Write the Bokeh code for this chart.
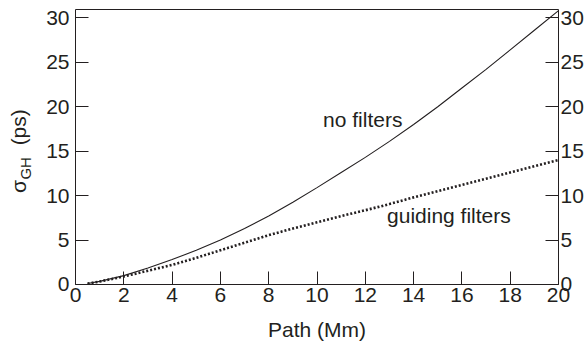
import math
from bokeh.plotting import figure
from bokeh.models import LinearAxis, FixedTicker, Range1d, Label
from bokeh.embed import file_html
from bokeh.resources import INLINE

# ---- data ----
path_mm = [0.5, 1, 2, 3, 4, 5, 6, 7, 8, 9, 10, 11, 12, 13, 14, 15, 16, 17, 18, 19, 20]
no_filters = [0.12, 0.35, 1.0, 1.85, 2.8, 3.85, 5.0, 6.3, 7.7, 9.25, 10.9, 12.6,
              14.3, 16.1, 18.0, 20.0, 22.1, 24.2, 26.4, 28.6, 30.8]
guiding_filters = [0.1, 0.33, 0.9, 1.55, 2.2, 3.0, 3.85, 4.7, 5.55, 6.3, 7.0, 7.7,
                   8.35, 9.05, 9.8, 10.5, 11.2, 11.9, 12.6, 13.3, 14.0]
x_ticks = [0, 2, 4, 6, 8, 10, 12, 14, 16, 18, 20]
y_ticks = [0, 5, 10, 15, 20, 25, 30]

FONT = "Liberation Sans"
INK = "#231f20"

X_MIN, X_MAX = 0, 20
Y_MIN, Y_MAX = 0, 30.9

# The frame covers the whole canvas so that every text (axis titles, tick
# labels) is drawn inside it; the four box sides are axes at fixed locations.
p = figure(width=587, height=345, output_backend="svg", toolbar_location=None,
           x_range=Range1d(-3.106, 21.2), y_range=Range1d(-6.862, 31.946),
           min_border_left=0, min_border_right=0, min_border_top=0,
           min_border_bottom=0)
p.grid.visible = False
p.background_fill_color = "white"
p.border_fill_color = "white"
p.outline_line_color = None


def style_axis(ax, standoff):
    ax.axis_line_color = INK
    ax.axis_line_width = 1
    ax.major_tick_line_color = INK
    ax.major_tick_line_width = 1
    ax.major_tick_in = 13
    ax.major_tick_out = 0
    ax.minor_tick_in = 0
    ax.minor_tick_out = 0
    ax.minor_tick_line_color = None
    ax.major_label_text_font = FONT
    ax.major_label_text_font_size = "21px"
    ax.major_label_text_color = INK
    ax.major_label_standoff = standoff


xax = p.xaxis[0]
xax.ticker = FixedTicker(ticks=x_ticks)
xax.bounds = (X_MIN, X_MAX)
xax.fixed_location = Y_MIN
style_axis(xax, 4)

yax = p.yaxis[0]
yax.ticker = FixedTicker(ticks=y_ticks)
yax.bounds = (Y_MIN, Y_MAX)
yax.fixed_location = X_MIN
style_axis(yax, 6)

rax = LinearAxis(ticker=FixedTicker(ticks=y_ticks), bounds=(Y_MIN, Y_MAX),
                 fixed_location=X_MAX)
style_axis(rax, 2)
p.add_layout(rax, "right")

# top side of the plot box
tax = LinearAxis(ticker=FixedTicker(ticks=[]), bounds=(X_MIN, X_MAX),
                 fixed_location=Y_MAX)
style_axis(tax, 0)
tax.major_label_text_font_size = "0px"
tax.major_tick_in = 0
p.add_layout(tax, "above")

p.line(path_mm, no_filters, line_color=INK, line_width=1.1)
p.line(path_mm, guiding_filters, line_color=INK, line_width=2.6,
       line_dash="2 2", line_cap="butt")

# curve labels
p.add_layout(Label(x=10.25, y=18.6, text="no filters", text_font=FONT,
                   text_font_size="21px", text_color=INK,
                   text_baseline="alphabetic"))
p.add_layout(Label(x=12.9, y=7.8, text="guiding filters", text_font=FONT,
                   text_font_size="21px", text_color=INK,
                   text_baseline="alphabetic"))

# x-axis title
p.add_layout(Label(x=10, y=-5.1, text="Path (Mm)", text_font=FONT,
                   text_font_size="21px", text_color=INK,
                   text_align="center", text_baseline="alphabetic"))

# rotated y-axis title with subscript
rot = math.pi / 2
p.add_layout(Label(x=-2.34, y=10.3, angle=rot,
                   text="σ", text_font=FONT, text_font_size="21px", text_color=INK,
                   text_align="left", text_baseline="alphabetic"))
p.add_layout(Label(x=-2.08, y=11.8, angle=rot,
                   text="GH", text_font=FONT, text_font_size="15px", text_color=INK,
                   text_align="left", text_baseline="alphabetic"))
p.add_layout(Label(x=-2.34, y=15.65, angle=rot,
                   text="(ps)", text_font=FONT, text_font_size="21px", text_color=INK,
                   text_align="left", text_baseline="alphabetic"))

open("out.html", "w").write(file_html(p, INLINE))
